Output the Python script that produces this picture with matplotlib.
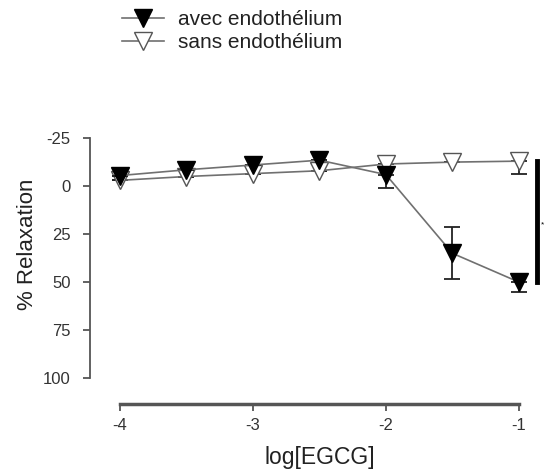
import matplotlib
matplotlib.use("Agg")
import matplotlib.pyplot as plt
from matplotlib.lines import Line2D

plt.rcParams["font.family"] = ["Liberation Sans", "DejaVu Sans"]

# data (y axis inverted: positive = relaxation)
log_egcg = [-4, -3.5, -3, -2.5, -2, -1.5, -1]
avec = [-5.5, -8.5, -11, -13.5, -6, 35, 50]
avec_err_up = [0, 0, 0, 0, 0, 13.5, 0]      # towards top of plot
avec_err_down = [0, 0, 0, 0, 7, 13.5, 5]    # towards bottom of plot
sans = [-3, -5, -6.5, -8, -11.5, -12.5, -13]
sans_err_up = [0, 0, 0, 0, 0, 0, 0]
sans_err_down = [0, 0, 0, 0, 0, 0, 6.5]
bar_range = [-13, 50]
labels = ["avec endothélium", "sans endothélium"]

fig = plt.figure(figsize=(5.45, 4.73), dpi=100)
ax = fig.add_axes([0.165, 0.146, 0.787, 0.562])

line_c = "#707070"
ax.errorbar(log_egcg, avec, yerr=[avec_err_up, avec_err_down], color=line_c,
            lw=1.2, marker="v", ms=12.5, mfc="black", mec="black",
            ecolor="#222222", elinewidth=1.3, capsize=6, capthick=1.3,
            clip_on=False, zorder=3)
ax.errorbar(log_egcg, sans, yerr=[sans_err_up, sans_err_down], color=line_c,
            lw=1.2, marker="v", ms=12.5, mfc="white", mec="#555555",
            ecolor="#222222", elinewidth=1.3, capsize=6, capthick=1.3,
            clip_on=False, zorder=2)

# significance bar on the right
ax.plot([-0.865, -0.865], bar_range, color="black", lw=3.5, clip_on=False)
ax.text(-0.835, 20, "*", fontsize=6, ha="left", va="center", clip_on=False)

ax.set_xlim(-4.226, -1)
ax.set_ylim(113.5, -25)
ax.set_xticks([-4, -3, -2, -1])
ax.set_xticklabels(["-4", "-3", "-2", "-1"])
ax.set_yticks([-25, 0, 25, 50, 75, 100])
ax.set_yticklabels(["-25", "0", "25", "50", "75", "100"])

for s in ["top", "right"]:
    ax.spines[s].set_visible(False)
ax.spines["bottom"].set_bounds(-4, -1)
ax.spines["left"].set_bounds(-25, 100)
ax.spines["bottom"].set_linewidth(2.5)
ax.spines["left"].set_linewidth(1.3)
ax.spines["bottom"].set_color("#555555")
ax.spines["left"].set_color("#555555")
ax.tick_params(axis="both", direction="out", length=5, width=1.3,
               colors="#555555", labelcolor="#333333", labelsize=12)
ax.tick_params(axis="y", pad=9)
ax.tick_params(axis="x", pad=5)

ax.set_xlabel("log[EGCG]", fontsize=16.5, color="#222222")
ax.xaxis.set_label_coords(0.536, -0.16)
ax.set_ylabel("% Relaxation", fontsize=16, color="#222222")
ax.yaxis.set_label_coords(-0.12, 0.6)

handles = [
    Line2D([], [], color=line_c, lw=1.2, marker="v", ms=12.5,
           mfc="black", mec="black"),
    Line2D([], [], color=line_c, lw=1.2, marker="v", ms=12.5,
           mfc="white", mec="#555555"),
]
fig.legend(handles, labels, loc="upper left", bbox_to_anchor=(0.19, 1.018),
           frameon=False, fontsize=15, handlelength=2.0,
           handletextpad=0.65, labelspacing=0.2, labelcolor="#222222")

fig.savefig("out.png", dpi=100)
plt.close(fig)
